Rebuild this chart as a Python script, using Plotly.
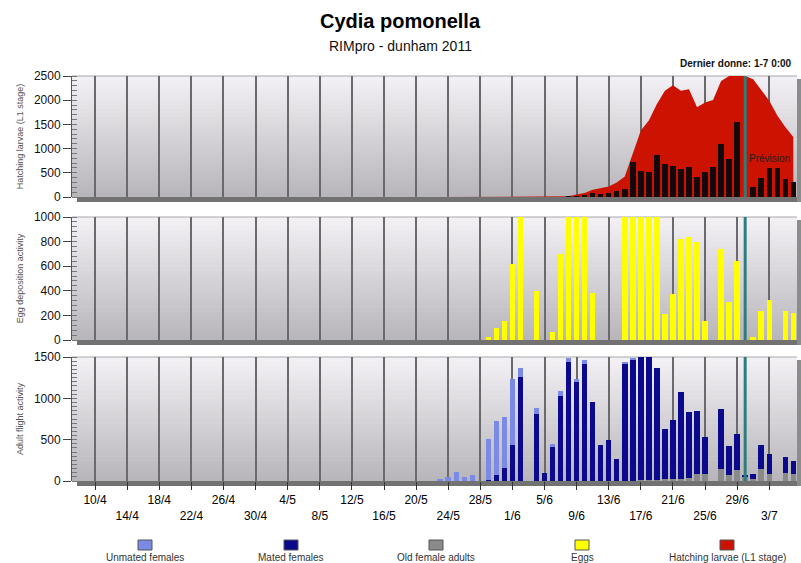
import plotly.graph_objects as go
import pandas as pd

# ---------------- data ----------------
dates = [d.strftime("%Y-%m-%d") for d in pd.date_range("2011-05-23", "2011-07-06")]

unmated_females = [17, 50, 113, 50, 71, 0, 498, 655, 622, 808,
                   100, 0, 71, 0, 33, 54, 51, 33, 42, 0,
                   0, 0, 0, 10, 15, 0, 0, 0, 0, 0,
                   0, 0, 0, 0, 0, 0, 0, 0, 0, 0,
                   0, 0, 0, 0, 0]
mated_females = [0, 0, 0, 0, 0, 0, 10, 75, 158, 430,
                 1263, 0, 813, 92, 413, 1030, 1438, 1197, 1418, 959,
                 430, 500, 271, 1420, 1460, 1490, 1490, 1353, 614, 713,
                 1042, 794, 766, 449, 0, 717, 354, 440, 9, 53,
                 280, 240, 0, 195, 148]
old_female_adults = [0, 0, 0, 0, 0, 0, 0, 0, 0, 0,
                     0, 0, 0, 0, 0, 0, 0, 0, 0, 0,
                     0, 0, 0, 0, 5, 10, 10, 15, 20, 25,
                     30, 40, 81, 81, 0, 150, 69, 130, 60, 28,
                     150, 81, 0, 98, 90]
eggs = [0, 0, 0, 0, 0, 0, 27, 101, 151, 616,
        1000, 0, 397, 0, 63, 699, 1000, 1000, 1000, 384,
        0, 0, 0, 1000, 1000, 1000, 1000, 1000, 211, 375,
        822, 841, 800, 151, 0, 740, 307, 644, 0, 22,
        238, 323, 0, 238, 216]
larvae_daily = [0, 0, 0, 0, 0, 0, 0, 0, 0, 0,
                0, 0, 0, 0, 0, 0, 5, 14, 48, 82,
                61, 82, 116, 170, 729, 538, 511, 865, 674, 640,
                579, 627, 409, 524, 613, 1103, 783, 1546, 0, 204,
                388, 592, 592, 375, 306]
hatching_larvae = [0, 0, 0, 0, 0, 0, 0, 0, 0, 0,
                   0, 0, 0, 0, 0, 5, 14, 50, 82, 150,
                   184, 218, 300, 422, 899, 1376, 1580, 1921, 2193, 2309,
                   2193, 2227, 1853, 1955, 2002, 2398, 2500, 2500, 2500, 2432,
                   2200, 1989, 1683, 1444, 1240]

tick_dates = [d for d in pd.date_range("2011-04-10", "2011-07-03", freq="4D")]
tick_vals = [d.strftime("%Y-%m-%d") for d in tick_dates]
tick_text = [(f"{d.day}/{d.month}" if i % 2 == 0 else f"<br>{d.day}/{d.month}")
             for i, d in enumerate(tick_dates)]

last_data_date = "2011-06-30"

legend_names = ["Unmated females", "Mated females", "Old female adults",
                "Eggs", "Hatching larvae (L1 stage)"]

# ---------------- styling ----------------
W, H = 801, 563
ML, MR = 72, 4
PW = W - ML - MR
FONT = "Liberation Sans, Arial, sans-serif"

C_UNMATED = "#7b8ae4"
C_MATED = "#0c0a8c"
C_OLD = "#8a8a8a"
C_EGGS = "#ffff00"
C_RED = "#cc1200"
C_BLACK = "#140808"
C_TEAL = "#2d7d7d"

def px_x(px):
    return (px - ML) / PW

def px_y(py):
    return 1 - py / H

panels = [(76, 197), (217, 340), (357, 481)]  # pixel top, bottom
BW = 0.68 * 86400000
XR = ["2011-04-07 03:00", "2011-07-06 11:00"]

fig = go.Figure()

fig.add_trace(go.Scatter(x=dates, y=hatching_larvae, xaxis="x", yaxis="y",
                         mode="lines", fill="tozeroy", fillcolor=C_RED,
                         line=dict(width=0, color=C_RED), hoverinfo="skip",
                         showlegend=False))
fig.add_trace(go.Bar(x=dates, y=larvae_daily, xaxis="x", yaxis="y4",
                     marker=dict(color=C_BLACK, line=dict(width=0)), width=BW,
                     showlegend=False))
fig.add_trace(go.Bar(x=dates, y=eggs, xaxis="x2", yaxis="y2",
                     marker=dict(color=C_EGGS, line=dict(width=0)), width=BW,
                     showlegend=False))
fig.add_trace(go.Bar(x=dates, y=old_female_adults, xaxis="x3", yaxis="y3",
                     marker=dict(color=C_OLD, line=dict(width=0)), width=BW,
                     showlegend=False))
fig.add_trace(go.Bar(x=dates, y=mated_females, xaxis="x3", yaxis="y3",
                     marker=dict(color=C_MATED, line=dict(width=0)), width=BW,
                     showlegend=False))
fig.add_trace(go.Bar(x=dates, y=unmated_females, xaxis="x3", yaxis="y3",
                     marker=dict(color=C_UNMATED, line=dict(width=0)), width=BW,
                     showlegend=False))

shapes = []
N = 30
c0 = (242, 240, 244)
c1 = (184, 182, 187)
for (top, bot) in panels:
    h = (bot - top) / N
    for i in range(N):
        t = i / (N - 1)
        col = tuple(int(round(c0[k] + (c1[k] - c0[k]) * t)) for k in range(3))
        shapes.append(dict(type="rect", xref="paper", yref="paper",
                           x0=0, x1=1, y0=px_y(top + (i + 1) * h + 0.5),
                           y1=px_y(top + i * h),
                           fillcolor=f"rgb{col}", line=dict(width=0), layer="below"))
    shapes.append(dict(type="line", xref="paper", yref="paper", x0=0, x1=1,
                       y0=px_y(top), y1=px_y(top), line=dict(color="#a8a8a8", width=1),
                       layer="below"))
    shapes.append(dict(type="rect", xref="paper", yref="paper",
                       x0=px_x(77), x1=px_x(798), y0=px_y(bot + 5), y1=px_y(bot),
                       fillcolor="#727272", line=dict(width=0), layer="below"))
    shapes.append(dict(type="rect", xref="paper", yref="paper",
                       x0=px_x(797), x1=px_x(801), y0=px_y(bot + 5), y1=px_y(top + 3),
                       fillcolor="#8c8c8c", line=dict(width=0), layer="below"))

for xr, yr in [("x", "y domain"), ("x2", "y2 domain"), ("x3", "y3 domain")]:
    shapes.append(dict(type="line", xref=xr, yref=yr, x0=last_data_date, x1=last_data_date,
                       y0=0, y1=1, line=dict(color=C_TEAL, width=3), layer="above"))

leg_colors = [C_UNMATED, C_MATED, C_OLD, C_EGGS, C_RED]
leg_x = [145, 291, 436, 582, 727]
annotations = []
for name, col, cx in zip(legend_names, leg_colors, leg_x):
    shapes.append(dict(type="rect", xref="paper", yref="paper",
                       x0=px_x(cx - 7), x1=px_x(cx + 7), y0=px_y(550), y1=px_y(540),
                       fillcolor=col, line=dict(color="#555555", width=1)))
    annotations.append(dict(text=name, xref="paper", yref="paper", x=px_x(cx),
                            y=px_y(557), xanchor="center", yanchor="middle",
                            showarrow=False, font=dict(size=10, color="#333333", family=FONT)))

annotations += [
    dict(text="<b>Cydia pomonella</b>", xref="paper", yref="paper", x=px_x(400),
         y=px_y(21), xanchor="center", yanchor="middle", showarrow=False,
         font=dict(size=20, color="#000000", family=FONT)),
    dict(text="RIMpro - dunham 2011", xref="paper", yref="paper", x=px_x(400),
         y=px_y(46), xanchor="center", yanchor="middle", showarrow=False,
         font=dict(size=14, color="#111111", family=FONT)),
    dict(text="<b>Dernier donne: 1-7 0:00</b>", xref="paper", yref="paper", x=px_x(794),
         y=px_y(64), xanchor="right", yanchor="middle", showarrow=False,
         font=dict(size=10, color="#111111", family=FONT)),
    dict(text="Prévision", xref="x", yref="y", x="2011-06-30 04:00", y=800,
         xanchor="left", yanchor="middle", showarrow=False,
         font=dict(size=10, color="#222222", family=FONT)),
]

def xaxis(anchor, labels):
    d = dict(domain=[0, 1], anchor=anchor, type="date", range=XR,
             tickmode="array", tickvals=tick_vals, showgrid=True,
             gridcolor="#6a6a6a", gridwidth=2, zeroline=False, showline=False,
             fixedrange=True, automargin=False)
    if labels:
        d.update(ticktext=tick_text, showticklabels=True, ticks="outside", ticklen=8,
                 tickcolor="#333333", tickwidth=1,
                 tickfont=dict(size=12, color="#000000", family=FONT))
    else:
        d.update(showticklabels=False, ticks="", matches="x3")
    return d

def yaxis(anchor, panel, rng, major, minor, title):
    top, bot = panel
    return dict(domain=[px_y(bot), px_y(top)], anchor=anchor, range=rng,
                tickmode="array", tickvals=major, ticks="outside", ticklen=8,
                tickcolor="#444444", showline=True, linecolor="#555555", linewidth=1,
                showgrid=False, zeroline=False, fixedrange=True, automargin=False,
                tickfont=dict(size=12, color="#111111", family=FONT),
                minor=dict(dtick=minor, tick0=0, ticks="inside", ticklen=5,
                           tickcolor="#777777", showgrid=False),
                title=dict(text=title, standoff=8,
                           font=dict(size=9, color="#555555", family=FONT)))

fig.update_layout(
    width=W, height=H, autosize=False,
    margin=dict(l=ML, r=MR, t=0, b=0, pad=0, autoexpand=False),
    paper_bgcolor="#ffffff", plot_bgcolor="rgba(0,0,0,0)",
    barmode="stack", bargap=0, showlegend=False,
    font=dict(family=FONT),
    xaxis=xaxis("y", False),
    xaxis2=xaxis("y2", False),
    xaxis3=xaxis("y3", True),
    yaxis=yaxis("x", panels[0], [0, 2500], [0, 500, 1000, 1500, 2000, 2500], 100,
                "Hatching larvae (L1 stage)"),
    yaxis2=yaxis("x2", panels[1], [0, 1000], [0, 200, 400, 600, 800, 1000], 40,
                 "Egg deposition activity"),
    yaxis3=yaxis("x3", panels[2], [0, 1500], [0, 500, 1000, 1500], 50,
                 "Adult flight activity"),
    yaxis4=dict(overlaying="y", anchor="x", range=[0, 2500], visible=False,
                fixedrange=True, automargin=False),
    shapes=shapes,
    annotations=annotations,
)

fig.write_html(
    "out.html",
    config={"responsive": False, "displayModeBar": False},
    post_script="document.body.style.margin='0';document.body.style.padding='0';"
                "document.body.style.overflow='hidden';",
)
